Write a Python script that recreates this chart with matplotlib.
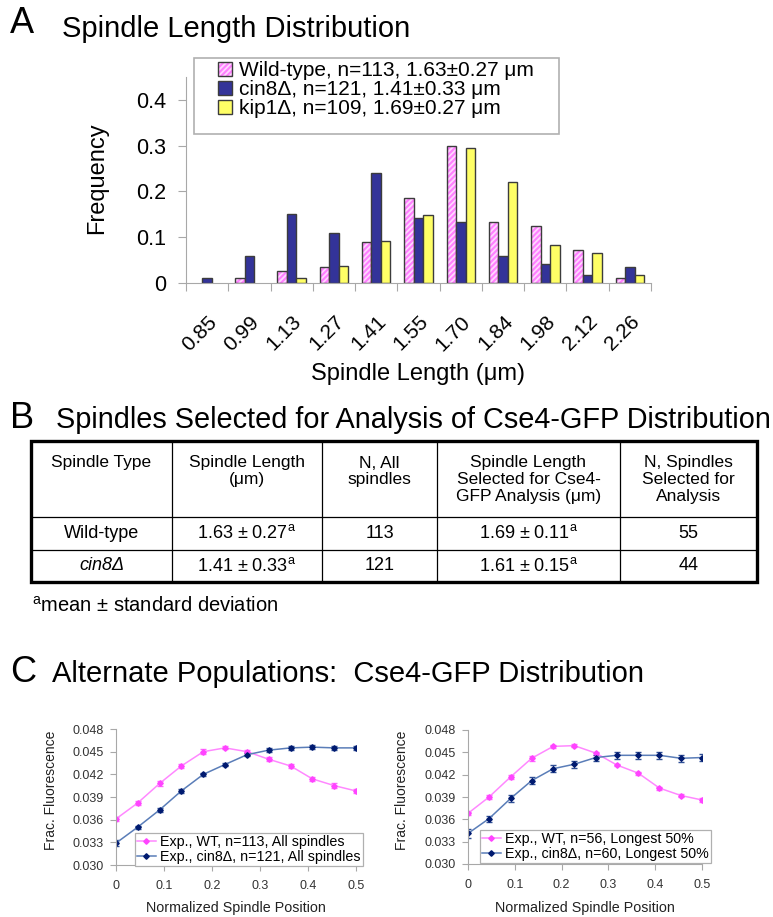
import numpy as np
import matplotlib
matplotlib.use("Agg")
import matplotlib.pyplot as plt
from matplotlib.patches import Patch, Rectangle
from matplotlib.lines import Line2D

plt.rcParams["font.family"] = ["Liberation Sans", "DejaVu Sans"]
plt.rcParams["mathtext.fontset"] = "custom"
plt.rcParams["mathtext.rm"] = "Liberation Sans"
plt.rcParams["mathtext.it"] = "Liberation Sans:italic"
plt.rcParams["hatch.linewidth"] = 1.3

# -----------------------------
# Panel A: spindle length histogram
# -----------------------------
length_bins = ["0.85", "0.99", "1.13", "1.27", "1.41", "1.55",
               "1.70", "1.84", "1.98", "2.12", "2.26"]
freq_wt = [0.0, 0.010, 0.027, 0.035, 0.089, 0.186, 0.300, 0.133, 0.124, 0.072, 0.010]
freq_cin8 = [0.010, 0.059, 0.150, 0.109, 0.241, 0.141, 0.133, 0.059, 0.042, 0.018, 0.034]
freq_kip1 = [0.0, 0.0, 0.010, 0.038, 0.091, 0.149, 0.294, 0.221, 0.083, 0.065, 0.018]
labels_a = ["Wild-type, n=113, 1.63\u00b10.27 \u03bcm",
            "cin8\u0394, n=121, 1.41\u00b10.33 \u03bcm",
            "kip1\u0394, n=109, 1.69\u00b10.27 \u03bcm"]

# -----------------------------
# Panel B: table
# -----------------------------
table_header = [["Spindle Type"],
                ["Spindle Length", "(\u03bcm)"],
                ["N, All", "spindles"],
                ["Spindle Length", "Selected for Cse4-", "GFP Analysis (\u03bcm)"],
                ["N, Spindles", "Selected for", "Analysis"]]
table_rows = [["Wild-type", "1.63 \u00b1 0.27$^{\\mathrm{a}}$", "113",
               "1.69 \u00b1 0.11$^{\\mathrm{a}}$", "55"],
              ["cin8\u0394", "1.41 \u00b1 0.33$^{\\mathrm{a}}$", "121",
               "1.61 \u00b1 0.15$^{\\mathrm{a}}$", "44"]]

# -----------------------------
# Panel C: Cse4-GFP distribution
# -----------------------------
positions = [0, 0.045, 0.091, 0.136, 0.182, 0.227, 0.273, 0.318, 0.364, 0.409, 0.455, 0.5]

all_wt = [0.0361, 0.0382, 0.0408, 0.0431, 0.0450, 0.0455, 0.0450, 0.0440, 0.0431, 0.0414, 0.0405, 0.0398]
all_wt_err = [0.0003, 0.0003, 0.0003, 0.0003, 0.0003, 0.0002, 0.0002, 0.0003, 0.0003, 0.0003, 0.0003, 0.0003]
all_cin8 = [0.0329, 0.0350, 0.0373, 0.0398, 0.0420, 0.0433, 0.0446, 0.0452, 0.0455, 0.0456, 0.0455, 0.0455]
all_cin8_err = [0.0004, 0.0002, 0.0003, 0.0003, 0.0002, 0.0002, 0.0002, 0.0003, 0.0003, 0.0003, 0.0003, 0.0003]

long_wt = [0.0368, 0.0390, 0.0417, 0.0442, 0.0458, 0.0459, 0.0449, 0.0433, 0.0422, 0.0402, 0.0392, 0.0386]
long_wt_err = [0.0002, 0.0003, 0.0003, 0.0003, 0.0002, 0.0002, 0.0002, 0.0002, 0.0002, 0.0002, 0.0002, 0.0003]
long_cin8 = [0.0341, 0.0361, 0.0388, 0.0412, 0.0428, 0.0434, 0.0443, 0.0446, 0.0446, 0.0446, 0.0442, 0.0443]
long_cin8_err = [0.0006, 0.0004, 0.0005, 0.0005, 0.0005, 0.0005, 0.0004, 0.0005, 0.0005, 0.0005, 0.0005, 0.0005]

labels_all = ["Exp., WT, n=113, All spindles", "Exp., cin8\u0394, n=121, All spindles"]
labels_long = ["Exp., WT, n=56, Longest 50%", "Exp., cin8\u0394, n=60, Longest 50%"]

W, H = 773, 917
PINK = "#FF80FF"
NAVY = "#333399"
YELLOW = "#FFFF66"
EDGE = "#3C3C3C"
AXIS = "#A8A8A8"

WT_LINE, WT_MARK = "#FF88FF", "#FF44FF"
CIN_LINE, CIN_MARK = "#5A7DB8", "#001A70"


def fx(x):
    return x / W


def fy(y):
    return 1 - y / H


def box(left, top, right, bottom):
    return [fx(left), fy(bottom), (right - left) / W, (bottom - top) / H]


def edges_for(values):
    # no outline for empty bins
    return [EDGE if v > 0 else "none" for v in values]


fig = plt.figure(figsize=(W / 100, H / 100), dpi=100)

# full-figure overlay in pixel coordinates for titles and the table
ov = fig.add_axes([0, 0, 1, 1])
ov.set_xlim(0, W)
ov.set_ylim(H, 0)
ov.axis("off")

# -----------------------------
# Panel A
# -----------------------------
ov.text(10, 33, "A", fontsize=26, va="baseline")
ov.text(62, 37, "Spindle Length Distribution", fontsize=21, va="baseline")

ax = fig.add_axes(box(186, 77, 651, 283))
ax.patch.set_alpha(0)
x = np.arange(len(length_bins))
w = 0.225

plt.rcParams["hatch.color"] = "#FFD6FF"
ax.bar(x - w, freq_wt, w, color=PINK, hatch="//////", edgecolor=None, linewidth=0)
wt_hatch = Patch(facecolor=PINK, hatch="//////", edgecolor=None, linewidth=0)
ax.bar(x - w, freq_wt, w, fill=False, edgecolor=edges_for(freq_wt), linewidth=1)
ax.bar(x, freq_cin8, w, color=NAVY, edgecolor=edges_for(freq_cin8), linewidth=1)
ax.bar(x + w, freq_kip1, w, color=YELLOW, edgecolor=edges_for(freq_kip1), linewidth=1)

ax.set_xlim(-0.5, len(length_bins) - 0.5)
ax.set_ylim(0, 0.45)
ax.set_yticks([0, 0.1, 0.2, 0.3, 0.4])
ax.set_yticklabels(["0", "0.1", "0.2", "0.3", "0.4"])
ax.set_xticks(np.arange(-0.5, len(length_bins)))
ax.set_xticklabels([])
ax.set_xticks(x, minor=True)
ax.set_xticklabels(length_bins, minor=True, rotation=45, ha="right",
                   rotation_mode="anchor", fontsize=15)
ax.tick_params(axis="x", which="minor", length=0, pad=21)
ax.tick_params(axis="x", which="major", length=6, color=AXIS, direction="out")
ax.tick_params(axis="y", length=6, color=AXIS, labelsize=15.5, pad=8)
for side in ["top", "right"]:
    ax.spines[side].set_visible(False)
for side in ["left", "bottom"]:
    ax.spines[side].set_color(AXIS)

ov.text(97, 178, "Frequency", fontsize=17, rotation=90, ha="center", va="center")
ov.text(418, 374, "Spindle Length (\u03bcm)", fontsize=17, ha="center", va="center")

# legend with a hand-drawn frame
ov.add_patch(Rectangle((194, 58), 559 - 194, 134 - 58, fill=False,
                       edgecolor="#B0B0B0", linewidth=1.2))
handles_a = [(wt_hatch, Patch(fill=False, edgecolor=EDGE, linewidth=1)),
             Patch(facecolor=NAVY, edgecolor=EDGE, linewidth=1),
             Patch(facecolor=YELLOW, edgecolor=EDGE, linewidth=1)]
ax.legend(handles_a, labels_a, loc="upper left",
          bbox_to_anchor=(fx(218), fy(61)), bbox_transform=fig.transFigure,
          frameon=False, fontsize=15, borderpad=0, borderaxespad=0,
          handlelength=0.68, handleheight=0.68, handletextpad=0.35,
          labelspacing=0.0)

# -----------------------------
# Panel B
# -----------------------------
ov.text(10, 428, "B", fontsize=26, va="baseline")
ov.text(56, 428, "Spindles Selected for Analysis of Cse4-GFP Distribution",
        fontsize=20.8, va="baseline")

col_edges = [31, 172, 322, 437, 620, 757]
row_edges = [441, 517, 550, 582]
ov.add_patch(Rectangle((col_edges[0], row_edges[0]),
                       col_edges[-1] - col_edges[0], row_edges[-1] - row_edges[0],
                       fill=False, edgecolor="black", linewidth=2.4))
for cx in col_edges[1:-1]:
    ov.plot([cx, cx], [row_edges[0], row_edges[-1]], color="black", lw=0.9)
for ry in row_edges[1:-1]:
    ov.plot([col_edges[0], col_edges[-1]], [ry, ry], color="black", lw=0.9)

for i, lines in enumerate(table_header):
    cx = (col_edges[i] + col_edges[i + 1]) / 2
    for k, line in enumerate(lines):
        ov.text(cx, 463 + 16.5 * k, line, fontsize=12.5, ha="center", va="center")

for r, row in enumerate(table_rows):
    cy = (row_edges[r + 1] + row_edges[r + 2]) / 2
    for i, cell in enumerate(row):
        cx = (col_edges[i] + col_edges[i + 1]) / 2
        style = "italic" if (i == 0 and r == 1) else "normal"
        ov.text(cx, cy, cell, fontsize=13, ha="center", va="center", fontstyle=style)

ov.text(32, 612, "$^{\\mathrm{a}}$mean \u00b1 standard deviation", fontsize=14.5, va="baseline")

# -----------------------------
# Panel C
# -----------------------------
ov.text(10, 682, "C", fontsize=26, va="baseline")
ov.text(52, 682, "Alternate Populations:  Cse4-GFP Distribution", fontsize=21, va="baseline")


def profile_axes(rect, wt, wt_err, cin8, cin8_err, labels, ylabel_x, legend_xy):
    axc = fig.add_axes(rect)
    axc.patch.set_alpha(0)
    axc.errorbar(positions, wt, yerr=wt_err, color=WT_LINE, lw=1.1,
                 marker="D", ms=2.8, mfc=WT_MARK, mec=WT_MARK,
                 ecolor="#FF66FF", elinewidth=0.8, capsize=2)
    axc.errorbar(positions, cin8, yerr=cin8_err, color=CIN_LINE, lw=1.1,
                 marker="D", ms=2.8, mfc=CIN_MARK, mec=CIN_MARK,
                 ecolor="#2F4F95", elinewidth=0.8, capsize=2)
    axc.set_xlim(0, 0.5)
    axc.set_ylim(0.030, 0.048)
    axc.set_yticks([0.030, 0.033, 0.036, 0.039, 0.042, 0.045, 0.048])
    axc.set_yticklabels(["0.030", "0.033", "0.036", "0.039", "0.042", "0.045", "0.048"])
    axc.set_xticks([0, 0.1, 0.2, 0.3, 0.4, 0.5])
    axc.set_xticklabels(["0", "0.1", "0.2", "0.3", "0.4", "0.5"])
    axc.tick_params(length=4, color=AXIS, labelsize=9, labelcolor="#333333")
    axc.tick_params(axis="y", pad=5)
    axc.tick_params(axis="x", pad=7)
    for side in ["top", "right"]:
        axc.spines[side].set_visible(False)
    for side in ["left", "bottom"]:
        axc.spines[side].set_color(AXIS)
    handles = [Line2D([], [], color=WT_LINE, lw=1.1, marker="D", ms=2.8,
                      mfc=WT_MARK, mec=WT_MARK),
               Line2D([], [], color=CIN_LINE, lw=1.1, marker="D", ms=2.8,
                      mfc=CIN_MARK, mec=CIN_MARK)]
    leg = axc.legend(handles, labels, loc="upper left",
                     bbox_to_anchor=(fx(legend_xy[0]), fy(legend_xy[1])),
                     bbox_transform=fig.transFigure, fontsize=10.3, borderpad=0.15,
                     borderaxespad=0, labelspacing=0.05, handlelength=1.3,
                     handletextpad=0.3, fancybox=False, framealpha=1,
                     edgecolor="#B0B0B0")
    leg.get_frame().set_linewidth(0.9)
    x_mid = (rect[0] + rect[2] / 2) * W
    ov.text(ylabel_x, 790, "Frac. Fluorescence", fontsize=10, rotation=90,
            ha="center", va="center", color="#222222")
    ov.text(x_mid, 908, "Normalized Spindle Position", fontsize=10.3,
            ha="center", va="center", color="#222222")
    return axc


profile_axes(box(116, 729, 356, 865), all_wt, all_wt_err, all_cin8, all_cin8_err,
             labels_all, 51, (135, 833))
profile_axes(box(468, 730, 702, 864), long_wt, long_wt_err, long_cin8, long_cin8_err,
             labels_long, 402, (480, 830))

fig.savefig("out.png", dpi=100)
